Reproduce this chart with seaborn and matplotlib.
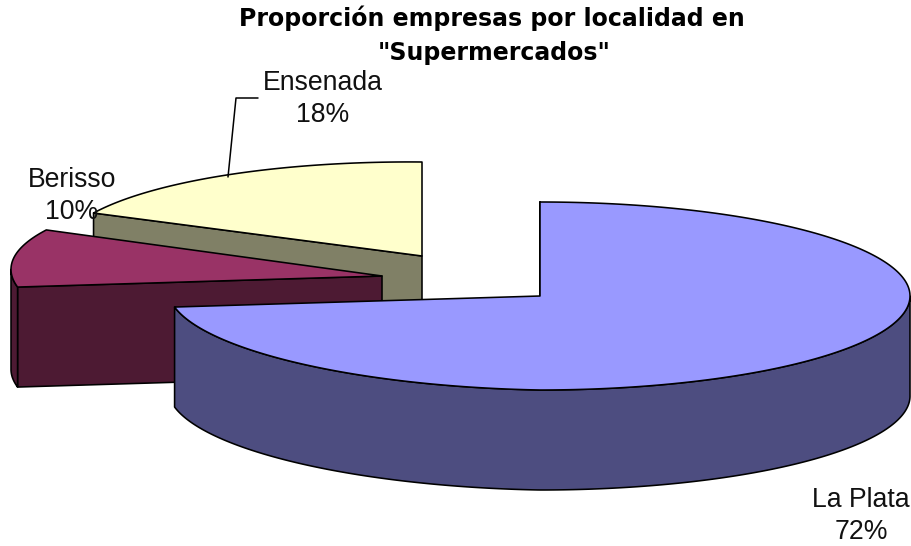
import numpy as np
import seaborn as sns
import matplotlib
matplotlib.use("Agg")
import matplotlib.pyplot as plt
from matplotlib.patches import Polygon

localities = ["La Plata", "Berisso", "Ensenada"]
shares = [72, 10, 18]
top_colors = ["#9999FF", "#993366", "#FFFFCC"]
side_colors = ["#4D4D80", "#4D1A33", "#808066"]
title_lines = ["Proporción empresas por localidad en", '"Supermercados"']

sns.set_theme(style="white")
plt.rcParams["font.family"] = ["Liberation Sans", "DejaVu Sans"]

fig = plt.figure(figsize=(9.11, 5.46), dpi=100, facecolor="white")
ax = fig.add_axes([0, 0, 1, 1])
ax.set_xlim(0, 911)
ax.set_ylim(546, 0)
ax.axis("off")

RX, RY, DEPTH = 370, 94, 100
# exploded 3D layout: apex position, left-hand radius, slight projection tilt
layout = {
    "La Plata": dict(apex=(540, 296), rx_left=372, tilt=0.018),
    "Berisso": dict(apex=(382, 276), rx_left=371, tilt=0.018),
    "Ensenada": dict(apex=(422, 256), rx_left=363, tilt=0.009),
}
EDGE = dict(edgecolor="black", linewidth=1.15, joinstyle="round")

edges = np.concatenate([[0], np.cumsum(shares)]) / sum(shares) * 360


def rim(geo, t0, t1):
    ax0, ay0 = geo["apex"]
    t = np.radians(np.linspace(t0, t1, max(int(abs(t1 - t0) * 2), 2)))
    s, c = np.sin(t), np.cos(t)
    dx = np.where(s < 0, geo["rx_left"], RX) * s
    return np.column_stack([ax0 + dx, ay0 - RY * c + geo["tilt"] * np.minimum(dx, 0)])


# painted from the back of the scene to the front
for i in [2, 1, 0]:
    geo = layout[localities[i]]
    apex = geo["apex"]
    t0, t1 = edges[i], edges[i + 1]
    base = i * -10 + 30
    # cut face running from the apex to the start of the wedge
    start = rim(geo, t0, t0 + 1e-6)[0]
    quad = [apex, start, (start[0], start[1] + DEPTH), (apex[0], apex[1] + DEPTH)]
    ax.add_patch(Polygon(quad, closed=True, facecolor=side_colors[i], zorder=base, **EDGE))
    # outer rim facing the viewer (90 to 270 degrees clockwise from the top)
    lo, hi = max(t0, 90), min(t1, 270)
    if hi > lo:
        arc = rim(geo, lo, hi)
        wall = np.vstack([arc, arc[::-1] + [0, DEPTH]])
        ax.add_patch(Polygon(wall, closed=True, facecolor=side_colors[i], zorder=base + 1, **EDGE))
    # top surface
    top = np.vstack([[apex], rim(geo, t0, t1)])
    ax.add_patch(Polygon(top, closed=True, facecolor=top_colors[i], zorder=base + 2, **EDGE))

label_pos = {"La Plata": (861, 516), "Berisso": (72, 196), "Ensenada": (323, 99)}
for name, share in zip(localities, shares):
    ax.text(*label_pos[name], f"{name}\n{share}%", ha="center", va="center",
            fontsize=19.2, color="#111111", linespacing=1.28, zorder=50)

ax.plot([228, 236, 258], [177, 98, 98], color="black", lw=1.1, zorder=49)

title_style = dict(ha="center", va="center", fontsize=17, fontweight="bold",
                   family="DejaVu Sans", color="black", zorder=50)
ax.text(492, 18, title_lines[0], **title_style)
ax.text(494, 53, title_lines[1], **title_style)

fig.savefig("out.png", dpi=100, facecolor="white")
